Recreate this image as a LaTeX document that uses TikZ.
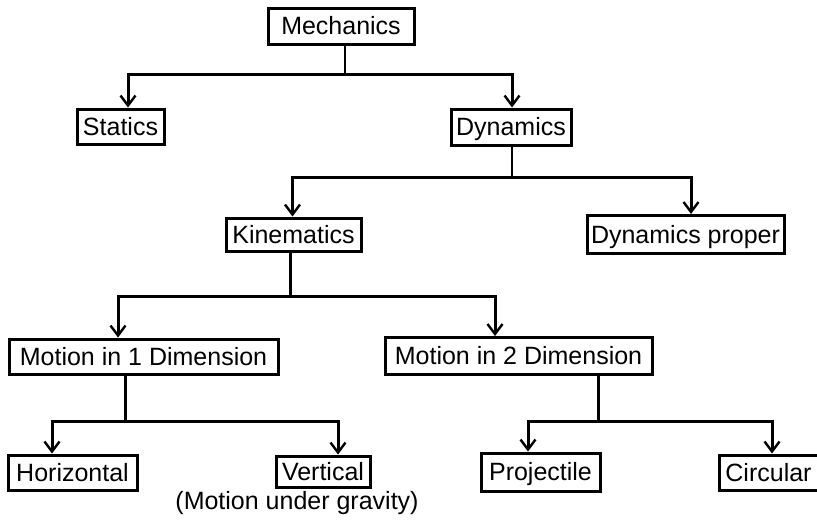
\documentclass[tikz,border=0pt]{standalone}
\usepackage{fontspec}
\setmainfont{Liberation Sans}
\usetikzlibrary{arrows.meta}
\begin{document}
\begin{tikzpicture}[x=1pt,y=-1pt,
  box/.style={draw, line width=3pt, inner sep=0pt, text height=18pt, text depth=1pt, font=\fontsize{25}{30}\selectfont},
  conn/.style={line width=3pt},
  thin conn/.style={line width=2.4pt},
  arr/.style={line width=3pt, -{Straight Barb[length=10pt,width=15pt,line width=2.4pt]}}]
\useasboundingbox (0,0) rectangle (817,523);

\node[box, minimum width=146pt, minimum height=36pt] (mech) at (341,26) {Mechanics};
\node[box, minimum width=87pt, minimum height=35pt] (stat) at (120.5,126.5) {Statics};
\node[box, minimum width=120pt, minimum height=36pt] (dyn) at (511,127) {Dynamics};
\node[box, minimum width=135pt, minimum height=33pt] (kin) at (293.5,234.5) {Kinematics};
\node[box, minimum width=197pt, minimum height=38pt] (dp) at (685.5,234.5) {Dynamics proper};
\node[box, minimum width=269pt, minimum height=35pt] (mone) at (143.5,356.5) {Motion in 1 Dimension};
\node[box, minimum width=267pt, minimum height=37pt] (mtwo) at (518.5,356) {Motion in 2 Dimension};
\node[box, minimum width=129pt, minimum height=35pt] (hor) at (72.5,472.5) {Horizontal};
\node[box, minimum width=94pt, minimum height=31pt] (ver) at (323,471.5) {Vertical};
\node[font=\fontsize{25}{30}\selectfont, inner sep=0pt] (grav) at (297,503) {(Motion under gravity)};
\node[box, minimum width=119pt, minimum height=38pt] (proj) at (540.5,472) {Projectile};
\node[box, minimum width=99pt, minimum height=35pt] (circ) at (768.5,472.5) {Circular};

% Mechanics
\coordinate (b1) at (345,74);
\draw[thin conn] ([xshift=4pt]mech.south) -- (b1);
\draw[arr] (b1) -| ([xshift=7.5pt]stat.north);
\draw[arr] (b1) -| ([xshift=1pt]dyn.north);

% Dynamics
\coordinate (b2) at (512,177);
\draw[thin conn] ([xshift=1pt]dyn.south) -- (b2);
\draw[arr] (b2) -| ([xshift=-1pt]kin.north);
\draw[arr] (b2) -| ([xshift=5.5pt]dp.north);

% Kinematics
\coordinate (b3) at (290,296);
\draw[conn] ([xshift=-3.5pt]kin.south) -- (b3);
\draw[arr] (b3) -| ([xshift=-25.5pt]mone.north);
\draw[arr] (b3) -| ([xshift=-23.5pt]mtwo.north);

% Motion in 1 Dimension
\coordinate (b4) at (125,421);
\draw[conn] ([xshift=-18.5pt]mone.south) -- (b4);
\draw[arr] (b4) -| ([xshift=-20.5pt]hor.north);
\draw[arr] (b4) -| ([xshift=15pt]ver.north);

% Motion in 2 Dimension
\coordinate (b5) at (598,421);
\draw[conn] ([xshift=79.5pt]mtwo.south) -- (b5);
\draw[arr] (b5) -| ([xshift=-12.5pt]proj.north);
\draw[arr] (b5) -| ([xshift=3.5pt]circ.north);
\end{tikzpicture}
\end{document}
